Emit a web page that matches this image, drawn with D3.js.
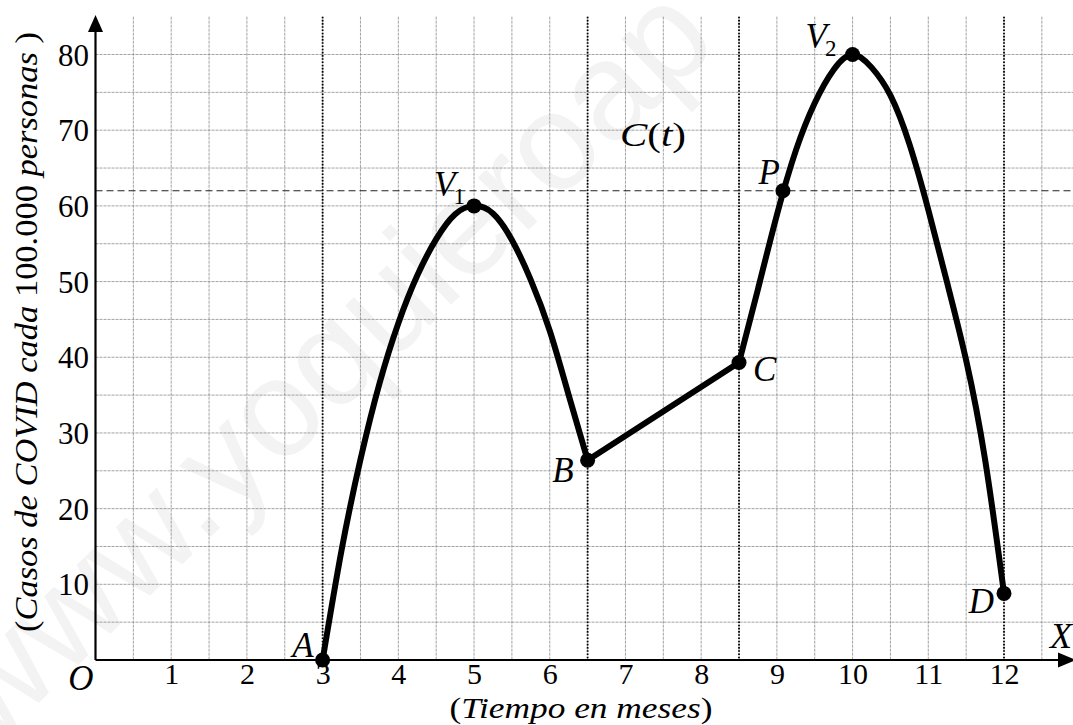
<!DOCTYPE html>
<html>
<head>
<meta charset="utf-8">
<script src="https://cdn.jsdelivr.net/npm/d3@7"></script>
<style>
  html, body { margin: 0; padding: 0; background: #fff; }
  svg { display: block; }
</style>
</head>
<body>
<svg id="chart" width="1073" height="725"></svg>
<script>
// ---------- data ----------
const xTicks = [1, 2, 3, 4, 5, 6, 7, 8, 9, 10, 11, 12];
const yTicks = [10, 20, 30, 40, 50, 60, 70, 80];
const xGrid = [0.5, 1, 1.5, 2, 2.5, 3, 3.5, 4, 4.5, 5, 5.5, 6, 6.5, 7, 7.5, 8, 8.5, 9, 9.5, 10, 10.5, 11, 11.5, 12, 12.5];
const yGrid = [5, 10, 15, 20, 25, 30, 35, 40, 45, 50, 55, 60, 65, 70, 75, 80];
const dottedX = [3, 6.5, 8.5, 12];
const levelP = 62;

// first arc A -> V1 -> B
const arc1T = [3, 3.25, 3.5, 3.75, 4, 4.25, 4.5, 4.75, 5, 5.25, 5.5, 5.75, 6, 6.25, 6.5];
const arc1V = [0, 14.5, 26.5, 36.5, 44.5, 50.8, 55.6, 58.9, 60, 59, 55.5, 50.2, 43.5, 35, 26.4];
// straight segment B -> C
const segT = [6.5, 8.5];
const segV = [26.4, 39.3];
// second arc C -> P -> V2 -> D
const arc2T = [8.5, 8.75, 9, 9.25, 9.5, 9.75, 10, 10.25, 10.5, 10.75, 11, 11.25, 11.5, 11.75, 12];
const arc2V = [39.3, 49, 58.8, 67.3, 73.6, 78, 80, 78.3, 74.6, 68.2, 59.5, 49.8, 39.6, 26.5, 8.8];

// marked points
const pointNames = ["A", "V1", "B", "C", "P", "V2", "D"];
const pointT = [3, 5, 6.5, 8.5, 9.08, 10, 12];
const pointV = [0, 60, 26.4, 39.3, 62, 80, 8.8];

// ---------- setup ----------
const svg = d3.select("#chart");
const W = 1073, H = 725;
const x = d3.scaleLinear().domain([0, 12]).range([95.5, 1004]);
const y = d3.scaleLinear().domain([0, 80]).range([660, 54.5]);
const yTop = y(85);
const serif = "'Liberation Serif', 'Times New Roman', serif";

// watermark
svg.append("text")
  .attr("transform", "translate(-8,748) rotate(-44)")
  .attr("font-family", "'Liberation Sans', Arial, sans-serif")
  .attr("font-size", 138)
  .attr("fill", "#f3f3f3")
  .text("www.yoquieroap");

// grid
const g = svg.append("g");
g.selectAll("line.vg").data(xGrid).join("line")
  .attr("x1", d => x(d)).attr("x2", d => x(d))
  .attr("y1", yTop).attr("y2", y(0))
  .attr("stroke", "#8c8c8c").attr("stroke-width", 0.8)
  .attr("stroke-dasharray", "3,1");
g.selectAll("line.hg").data(yGrid).join("line")
  .attr("x1", x(0)).attr("x2", W)
  .attr("y1", d => y(d)).attr("y2", d => y(d))
  .attr("stroke", "#8c8c8c").attr("stroke-width", 0.8)
  .attr("stroke-dasharray", "3,1");

// dotted verticals
g.selectAll("line.dv").data(dottedX).join("line")
  .attr("x1", d => x(d)).attr("x2", d => x(d))
  .attr("y1", yTop).attr("y2", y(0))
  .attr("stroke", "#000").attr("stroke-width", 1.8)
  .attr("stroke-dasharray", "1.6,1.6");

// dashed horizontal level of P
g.append("line")
  .attr("x1", x(0)).attr("x2", W)
  .attr("y1", y(levelP)).attr("y2", y(levelP))
  .attr("stroke", "#222").attr("stroke-width", 1.1)
  .attr("stroke-dasharray", "7,4");

// axes lines with arrows
svg.append("line").attr("x1", x(0)).attr("x2", 1062).attr("y1", y(0)).attr("y2", y(0))
  .attr("stroke", "#000").attr("stroke-width", 2.2);
svg.append("line").attr("x1", x(0)).attr("x2", x(0)).attr("y1", y(0)).attr("y2", 28)
  .attr("stroke", "#000").attr("stroke-width", 2.2);
svg.append("path")
  .attr("d", `M${x(0)},15 L${x(0) - 7.5},32 L${x(0) + 7.5},32 Z`).attr("fill", "#000");
svg.append("path")
  .attr("d", `M1076,${y(0)} L1058,${y(0) - 7.5} L1058,${y(0) + 7.5} Z`).attr("fill", "#000");

// tick labels via d3 axes
const xAxis = svg.append("g").attr("transform", `translate(0,${y(0)})`)
  .call(d3.axisBottom(x).tickValues(xTicks).tickSize(0).tickPadding(0).tickFormat(d3.format("d")));
xAxis.select(".domain").remove();
xAxis.selectAll("text")
  .attr("font-family", serif).attr("font-size", 30).attr("fill", "#000")
  .attr("dy", null).attr("y", 24);

const yAxis = svg.append("g").attr("transform", `translate(89,0)`)
  .call(d3.axisLeft(y).tickValues(yTicks).tickSize(0).tickPadding(0).tickFormat(d3.format("d")));
yAxis.select(".domain").remove();
yAxis.selectAll("text")
  .attr("font-family", serif).attr("font-size", 31).attr("fill", "#000")
  .attr("dy", "0.34em");

// curve
const lineCurve = d3.line().x(d => x(d[0])).y(d => y(d[1])).curve(d3.curveNatural);
const lineStraight = d3.line().x(d => x(d[0])).y(d => y(d[1]));
const arc1 = arc1T.map((t, i) => [t, arc1V[i]]);
const seg = segT.map((t, i) => [t, segV[i]]);
const arc2 = arc2T.map((t, i) => [t, arc2V[i]]);
const curveStyle = sel => sel.attr("fill", "none").attr("stroke", "#000").attr("stroke-width", 6)
  .attr("stroke-linejoin", "round").attr("stroke-linecap", "round");
svg.append("path").attr("d", lineCurve(arc1)).call(curveStyle);
svg.append("path").attr("d", lineStraight(seg)).call(curveStyle);
svg.append("path").attr("d", lineCurve(arc2)).call(curveStyle);

// points
const pts = pointNames.map((n, i) => ({ n, t: pointT[i], v: pointV[i] }));
svg.selectAll("circle.pt").data(pts).join("circle")
  .attr("cx", d => x(d.t)).attr("cy", d => y(d.v)).attr("r", 7.5).attr("fill", "#000");

// point labels
const labelOffsets = {
  A: [-9, -3, "end"], B: [-14, 22, "end"], C: [14, 18, "start"], P: [-3, -7, "end"], D: [-10, 20, "end"],
  V1: [-40, -10, "start"], V2: [-47, -7, "start"]
};
pts.forEach(d => {
  const [dx, dy, anchor] = labelOffsets[d.n];
  const t = svg.append("text")
    .attr("x", x(d.t) + dx).attr("y", y(d.v) + dy)
    .attr("text-anchor", anchor)
    .attr("font-family", serif).attr("font-size", 35).attr("font-style", "italic");
  if (d.n.length > 1) {
    t.append("tspan").text(d.n[0]);
    t.append("tspan").attr("font-style", "normal").attr("font-size", 23).attr("dx", -2).attr("dy", 8).text(d.n.slice(1));
  } else {
    t.text(d.n);
  }
});

// C(t)
const ct = svg.append("text").attr("x", 653).attr("y", 146).attr("text-anchor", "middle")
  .attr("font-family", serif).attr("font-size", 33)
  .attr("textLength", 66).attr("lengthAdjust", "spacingAndGlyphs");
ct.append("tspan").attr("font-style", "italic").text("C");
ct.append("tspan").text("(");
ct.append("tspan").attr("font-style", "italic").text("t");
ct.append("tspan").text(")");

// origin O and X
svg.append("text").attr("x", 81).attr("y", 690).attr("text-anchor", "middle")
  .attr("font-family", serif).attr("font-size", 35).attr("font-style", "italic").text("O");
svg.append("text").attr("x", 1061).attr("y", 648).attr("text-anchor", "middle")
  .attr("font-family", serif).attr("font-size", 36).attr("font-style", "italic").text("X");

// x axis title
const xt = svg.append("text").attr("x", 581).attr("y", 718).attr("text-anchor", "middle")
  .attr("font-family", serif).attr("font-size", 30)
  .attr("textLength", 263).attr("lengthAdjust", "spacingAndGlyphs");
xt.append("tspan").text("(");
xt.append("tspan").attr("font-style", "italic").text("Tiempo en meses");
xt.append("tspan").text(")");

// y axis title
const yt = svg.append("text").attr("transform", "translate(37,332) rotate(-90)").attr("text-anchor", "middle")
  .attr("font-family", serif).attr("font-size", 31)
  .attr("textLength", 600).attr("lengthAdjust", "spacingAndGlyphs");
yt.append("tspan").text("(");
yt.append("tspan").attr("font-style", "italic").text("Casos de COVID cada ");
yt.append("tspan").text("100.000");
yt.append("tspan").attr("font-style", "italic").text(" personas ");
yt.append("tspan").text(")");
</script>
</body>
</html>
